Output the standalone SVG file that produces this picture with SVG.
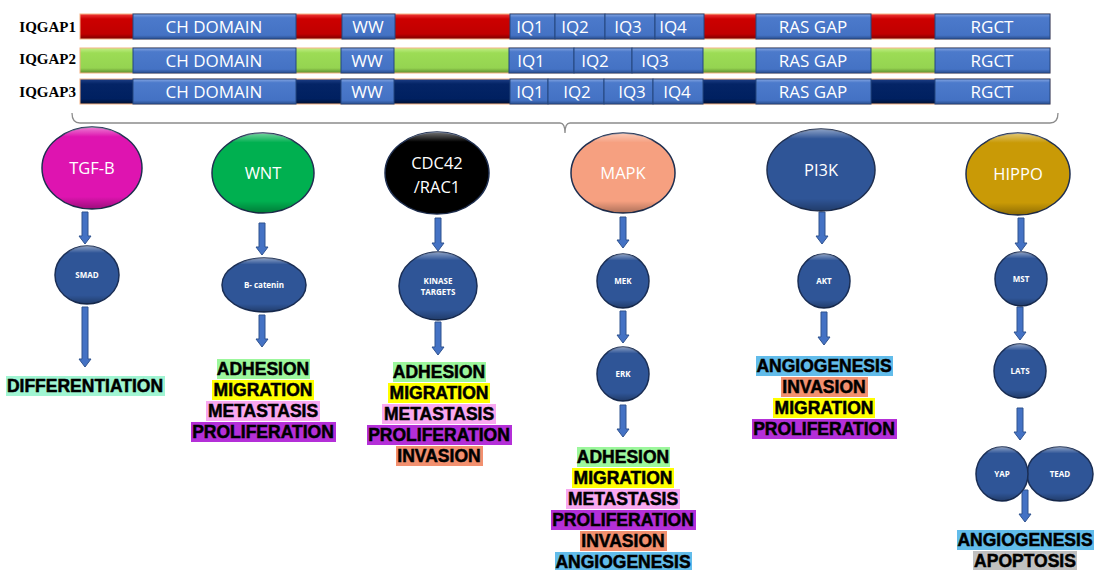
<svg xmlns="http://www.w3.org/2000/svg" width="1094" height="570" viewBox="0 0 1094 570">
<defs>
<linearGradient id="gRed" x1="0" y1="0" x2="0" y2="1"><stop offset="0" stop-color="#F03A3A"/><stop offset="0.2" stop-color="#CC0000"/><stop offset="0.8" stop-color="#C00000"/><stop offset="1" stop-color="#7A0000"/></linearGradient>
<linearGradient id="gGreen" x1="0" y1="0" x2="0" y2="1"><stop offset="0" stop-color="#C2EE86"/><stop offset="0.2" stop-color="#9CDC55"/><stop offset="0.8" stop-color="#95D451"/><stop offset="1" stop-color="#5E8C2E"/></linearGradient>
<linearGradient id="gNavy" x1="0" y1="0" x2="0" y2="1"><stop offset="0" stop-color="#1E3F86"/><stop offset="0.2" stop-color="#042466"/><stop offset="0.8" stop-color="#002060"/><stop offset="1" stop-color="#000E30"/></linearGradient>
<linearGradient id="gBlue" x1="0" y1="0" x2="0" y2="1"><stop offset="0" stop-color="#86A6E2"/><stop offset="0.15" stop-color="#4C7ACB"/><stop offset="0.85" stop-color="#4472C4"/><stop offset="1" stop-color="#2A4E8E"/></linearGradient>
<linearGradient id="gNode" x1="0" y1="0" x2="0" y2="1"><stop offset="0" stop-color="#ffffff" stop-opacity="0.45"/><stop offset="0.12" stop-color="#ffffff" stop-opacity="0"/><stop offset="0.85" stop-color="#000000" stop-opacity="0"/><stop offset="1" stop-color="#000000" stop-opacity="0.3"/></linearGradient>
<style>
.lbl{font-family:"Liberation Serif","Times New Roman",serif;font-weight:bold;font-size:15px;fill:#000;text-anchor:end}
.bar{stroke:#F4B183;stroke-width:1}
.dom{fill:url(#gBlue);stroke:#24467E;stroke-width:1}
.dt{font-family:"Open Sans","Noto Sans",sans-serif;font-size:17px;fill:#fff;text-anchor:middle}
.big{stroke:#1F2F50;stroke-width:1.5}
.shade{fill:url(#gNode);stroke:none}
.bt{font-family:"Open Sans","Noto Sans",sans-serif;font-size:16.5px;fill:#fff;text-anchor:middle}
.sm{fill:#2F5597;stroke:#1A2E55;stroke-width:1.5}
.st{font-family:"Open Sans","Noto Sans",sans-serif;font-size:8px;font-weight:bold;fill:#fff;text-anchor:middle}
.arr{fill:#4472C4;stroke:#2F528F;stroke-width:1}
.brace{fill:none;stroke:#8C8C8C;stroke-width:1.3}
.ot{font-family:"Liberation Sans",Arial,sans-serif;font-weight:bold;font-size:17.5px;fill:#000;stroke:#000;stroke-width:0.5;text-anchor:middle}
.c-adh{fill:#9CF79C}.c-mig{fill:#FFFF00}.c-met{fill:#F9A8F0}.c-pro{fill:#B42FD8}.c-inv{fill:#F2906F}.c-ang{fill:#62BCEA}.c-apo{fill:#C0C0C0}.c-dif{fill:#A0F5D2}
</style>
</defs>
<rect width="1094" height="570" fill="#fff"/>

<g id="iqgap1">
<text class="lbl" x="76" y="32">IQGAP1</text>
<rect class="bar" x="80" y="14" width="970" height="25" fill="url(#gRed)"/>
<rect class="dom" x="133" y="14" width="163" height="25"/><text class="dt" x="214" y="33">CH DOMAIN</text>
<rect class="dom" x="342" y="14" width="53" height="25"/><text class="dt" x="368" y="33">WW</text>
<rect class="dom" x="510" y="14" width="45" height="25"/><text class="dt" x="530" y="33">IQ1</text>
<rect class="dom" x="555" y="14" width="50" height="25"/><text class="dt" x="575" y="33">IQ2</text>
<rect class="dom" x="605" y="14" width="50" height="25"/><text class="dt" x="628" y="33">IQ3</text>
<rect class="dom" x="655" y="14" width="49" height="25"/><text class="dt" x="673" y="33">IQ4</text>
<rect class="dom" x="756" y="14" width="115" height="25"/><text class="dt" x="813" y="33">RAS GAP</text>
<rect class="dom" x="935" y="14" width="115" height="25"/><text class="dt" x="992" y="33">RGCT</text>
</g>

<g id="iqgap2">
<text class="lbl" x="76" y="64">IQGAP2</text>
<rect class="bar" x="80" y="48" width="970" height="25" fill="url(#gGreen)"/>
<rect class="dom" x="133" y="48" width="163" height="25"/><text class="dt" x="214" y="67">CH DOMAIN</text>
<rect class="dom" x="341" y="48" width="53" height="25"/><text class="dt" x="367" y="67">WW</text>
<rect class="dom" x="509" y="48" width="65" height="25"/><text class="dt" x="531" y="67">IQ1</text>
<rect class="dom" x="574" y="48" width="58" height="25"/><text class="dt" x="595" y="67">IQ2</text>
<rect class="dom" x="632" y="48" width="71" height="25"/><text class="dt" x="655" y="67">IQ3</text>
<rect class="dom" x="756" y="48" width="115" height="25"/><text class="dt" x="813" y="67">RAS GAP</text>
<rect class="dom" x="935" y="48" width="115" height="25"/><text class="dt" x="992" y="67">RGCT</text>
</g>

<g id="iqgap3">
<text class="lbl" x="76" y="97">IQGAP3</text>
<rect class="bar" x="80" y="79" width="970" height="25" fill="url(#gNavy)"/>
<rect class="dom" x="133" y="79" width="163" height="25"/><text class="dt" x="214" y="98">CH DOMAIN</text>
<rect class="dom" x="341" y="79" width="53" height="25"/><text class="dt" x="367" y="98">WW</text>
<rect class="dom" x="510" y="79" width="38" height="25"/><text class="dt" x="530" y="98">IQ1</text>
<rect class="dom" x="548" y="79" width="56" height="25"/><text class="dt" x="577" y="98">IQ2</text>
<rect class="dom" x="604" y="79" width="49" height="25"/><text class="dt" x="632" y="98">IQ3</text>
<rect class="dom" x="653" y="79" width="50" height="25"/><text class="dt" x="677" y="98">IQ4</text>
<rect class="dom" x="756" y="79" width="115" height="25"/><text class="dt" x="813" y="98">RAS GAP</text>
<rect class="dom" x="935" y="79" width="115" height="25"/><text class="dt" x="992" y="98">RGCT</text>
</g>

<g id="brace">
<path class="brace" d="M72,113 Q72,123 80,123 L560,123 Q565,123 565,133 Q565,123 570,123 L1050,123 Q1058,123 1058,113"/>
</g>

<g id="connectors">
<polygon class="arr" points="82,212 88,212 88,236 91,236 85,244 79,236 82,236"/>
<polygon class="arr" points="82,307 88,307 88,359 91,359 85,367 79,359 82,359"/>
<polygon class="arr" points="259,223 265,223 265,247 268,247 262,255 256,247 259,247"/>
<polygon class="arr" points="259,315 265,315 265,339 268,339 262,347 256,339 259,339"/>
<polygon class="arr" points="435,218 441,218 441,243 444,243 438,251 432,243 435,243"/>
<polygon class="arr" points="435,322 441,322 441,347 444,347 438,355 432,347 435,347"/>
<polygon class="arr" points="620,217 626,217 626,240 629,240 623,248 617,240 620,240"/>
<polygon class="arr" points="620,311 626,311 626,335 629,335 623,343 617,335 620,335"/>
<polygon class="arr" points="620,405 626,405 626,429 629,429 623,437 617,429 620,429"/>
<polygon class="arr" points="819,212 825,212 825,236 828,236 822,244 816,236 819,236"/>
<polygon class="arr" points="821,312 827,312 827,337 830,337 824,345 818,337 821,337"/>
<polygon class="arr" points="1018,218 1024,218 1024,243 1027,243 1021,251 1015,243 1018,243"/>
<polygon class="arr" points="1017,307 1023,307 1023,332 1026,332 1020,340 1014,332 1017,332"/>
<polygon class="arr" points="1017,408 1023,408 1023,432 1026,432 1020,440 1014,432 1017,432"/>
<polygon class="arr" points="1022,490 1028,490 1028,514 1031,514 1025,522 1019,514 1022,514"/>
</g>

<g id="tgfb"><ellipse class="big" cx="92" cy="168" rx="50" ry="41" fill="#DE14B0"/><ellipse class="shade" cx="92" cy="168" rx="50" ry="41"/><text class="bt" x="92" y="174">TGF-B</text></g>
<g id="wnt"><ellipse class="big" cx="263" cy="173" rx="51" ry="40" fill="#00B050"/><ellipse class="shade" cx="263" cy="173" rx="51" ry="40"/><text class="bt" x="263" y="179">WNT</text></g>
<g id="cdc42"><ellipse class="big" cx="437" cy="173" rx="52" ry="41" fill="#000"/><ellipse class="shade" cx="437" cy="173" rx="52" ry="41"/><text class="bt" x="437" y="169">CDC42</text><text class="bt" x="437" y="193">/RAC1</text></g>
<g id="mapk"><ellipse class="big" cx="623" cy="173" rx="52" ry="40" fill="#F6A080"/><ellipse class="shade" cx="623" cy="173" rx="52" ry="40"/><text class="bt" x="623" y="179">MAPK</text></g>
<g id="pi3k"><ellipse class="big" cx="821" cy="170" rx="54" ry="41" fill="#2F5597"/><ellipse class="shade" cx="821" cy="170" rx="54" ry="41"/><text class="bt" x="821" y="176">PI3K</text></g>
<g id="hippo"><ellipse class="big" cx="1018" cy="174" rx="52" ry="41" fill="#C99A06"/><ellipse class="shade" cx="1018" cy="174" rx="52" ry="41"/><text class="bt" x="1018" y="180">HIPPO</text></g>

<g id="smad"><ellipse class="sm" cx="87" cy="275" rx="32" ry="29"/><ellipse class="shade" cx="87" cy="275" rx="32" ry="29"/><text class="st" x="87" y="278">SMAD</text></g>
<g id="bcatenin"><ellipse class="sm" cx="264" cy="285" rx="42" ry="27"/><ellipse class="shade" cx="264" cy="285" rx="42" ry="27"/><text class="st" x="264" y="288">B- catenin</text></g>
<g id="kinase"><ellipse class="sm" cx="438" cy="286" rx="39" ry="34"/><ellipse class="shade" cx="438" cy="286" rx="39" ry="34"/><text class="st" x="438" y="284">KINASE</text><text class="st" x="438" y="295">TARGETS</text></g>
<g id="mek"><ellipse class="sm" cx="623" cy="281" rx="26" ry="27"/><ellipse class="shade" cx="623" cy="281" rx="26" ry="27"/><text class="st" x="623" y="284">MEK</text></g>
<g id="erk"><ellipse class="sm" cx="623" cy="374" rx="26" ry="27"/><ellipse class="shade" cx="623" cy="374" rx="26" ry="27"/><text class="st" x="623" y="377">ERK</text></g>
<g id="akt"><ellipse class="sm" cx="824" cy="281" rx="26" ry="27"/><ellipse class="shade" cx="824" cy="281" rx="26" ry="27"/><text class="st" x="824" y="284">AKT</text></g>
<g id="mst"><ellipse class="sm" cx="1021" cy="279" rx="26" ry="27"/><ellipse class="shade" cx="1021" cy="279" rx="26" ry="27"/><text class="st" x="1021" y="282">MST</text></g>
<g id="lats"><ellipse class="sm" cx="1020" cy="371" rx="26" ry="27"/><ellipse class="shade" cx="1020" cy="371" rx="26" ry="27"/><text class="st" x="1020" y="374">LATS</text></g>
<g id="tead"><ellipse class="sm" cx="1060" cy="474" rx="33" ry="27"/><ellipse class="shade" cx="1060" cy="474" rx="33" ry="27"/><text class="st" x="1060" y="477">TEAD</text></g>
<g id="yap"><ellipse class="sm" cx="1002" cy="474" rx="26" ry="27"/><ellipse class="shade" cx="1002" cy="474" rx="26" ry="27"/><text class="st" x="1002" y="477">YAP</text></g>

<g id="out-tgfb">
<rect class="c-dif" x="6" y="376" width="159" height="20"/><text class="ot" x="85" y="392">DIFFERENTIATION</text>
</g>
<g id="out-wnt">
<rect class="c-adh" x="217" y="359" width="93" height="20"/><text class="ot" x="263" y="375">ADHESION</text>
<rect class="c-mig" x="212" y="380" width="102" height="20"/><text class="ot" x="263" y="396">MIGRATION</text>
<rect class="c-met" x="206" y="401" width="114" height="20"/><text class="ot" x="263" y="417">METASTASIS</text>
<rect class="c-pro" x="191" y="422" width="145" height="20"/><text class="ot" x="263" y="438">PROLIFERATION</text>
</g>
<g id="out-cdc42">
<rect class="c-adh" x="393" y="362" width="93" height="20"/><text class="ot" x="439" y="378">ADHESION</text>
<rect class="c-mig" x="388" y="383" width="102" height="20"/><text class="ot" x="439" y="399">MIGRATION</text>
<rect class="c-met" x="382" y="404" width="114" height="20"/><text class="ot" x="439" y="420">METASTASIS</text>
<rect class="c-pro" x="367" y="425" width="145" height="20"/><text class="ot" x="439" y="441">PROLIFERATION</text>
<rect class="c-inv" x="396" y="446" width="87" height="20"/><text class="ot" x="439" y="462">INVASION</text>
</g>
<g id="out-mapk">
<rect class="c-adh" x="577" y="447" width="93" height="20"/><text class="ot" x="623" y="463">ADHESION</text>
<rect class="c-mig" x="572" y="468" width="102" height="20"/><text class="ot" x="623" y="484">MIGRATION</text>
<rect class="c-met" x="566" y="489" width="114" height="20"/><text class="ot" x="623" y="505">METASTASIS</text>
<rect class="c-pro" x="551" y="510" width="145" height="20"/><text class="ot" x="623" y="526">PROLIFERATION</text>
<rect class="c-inv" x="580" y="531" width="87" height="20"/><text class="ot" x="623" y="547">INVASION</text>
<rect class="c-ang" x="555" y="552" width="137" height="20"/><text class="ot" x="623" y="568">ANGIOGENESIS</text>
</g>
<g id="out-pi3k">
<rect class="c-ang" x="756" y="356" width="137" height="20"/><text class="ot" x="824" y="372">ANGIOGENESIS</text>
<rect class="c-inv" x="781" y="377" width="87" height="20"/><text class="ot" x="824" y="393">INVASION</text>
<rect class="c-mig" x="773" y="398" width="102" height="20"/><text class="ot" x="824" y="414">MIGRATION</text>
<rect class="c-pro" x="752" y="419" width="145" height="20"/><text class="ot" x="824" y="435">PROLIFERATION</text>
</g>
<g id="out-hippo">
<rect class="c-ang" x="957" y="530" width="137" height="20"/><text class="ot" x="1025" y="546">ANGIOGENESIS</text>
<rect class="c-apo" x="973" y="551" width="104" height="20"/><text class="ot" x="1025" y="567">APOPTOSIS</text>
</g>
</svg>
